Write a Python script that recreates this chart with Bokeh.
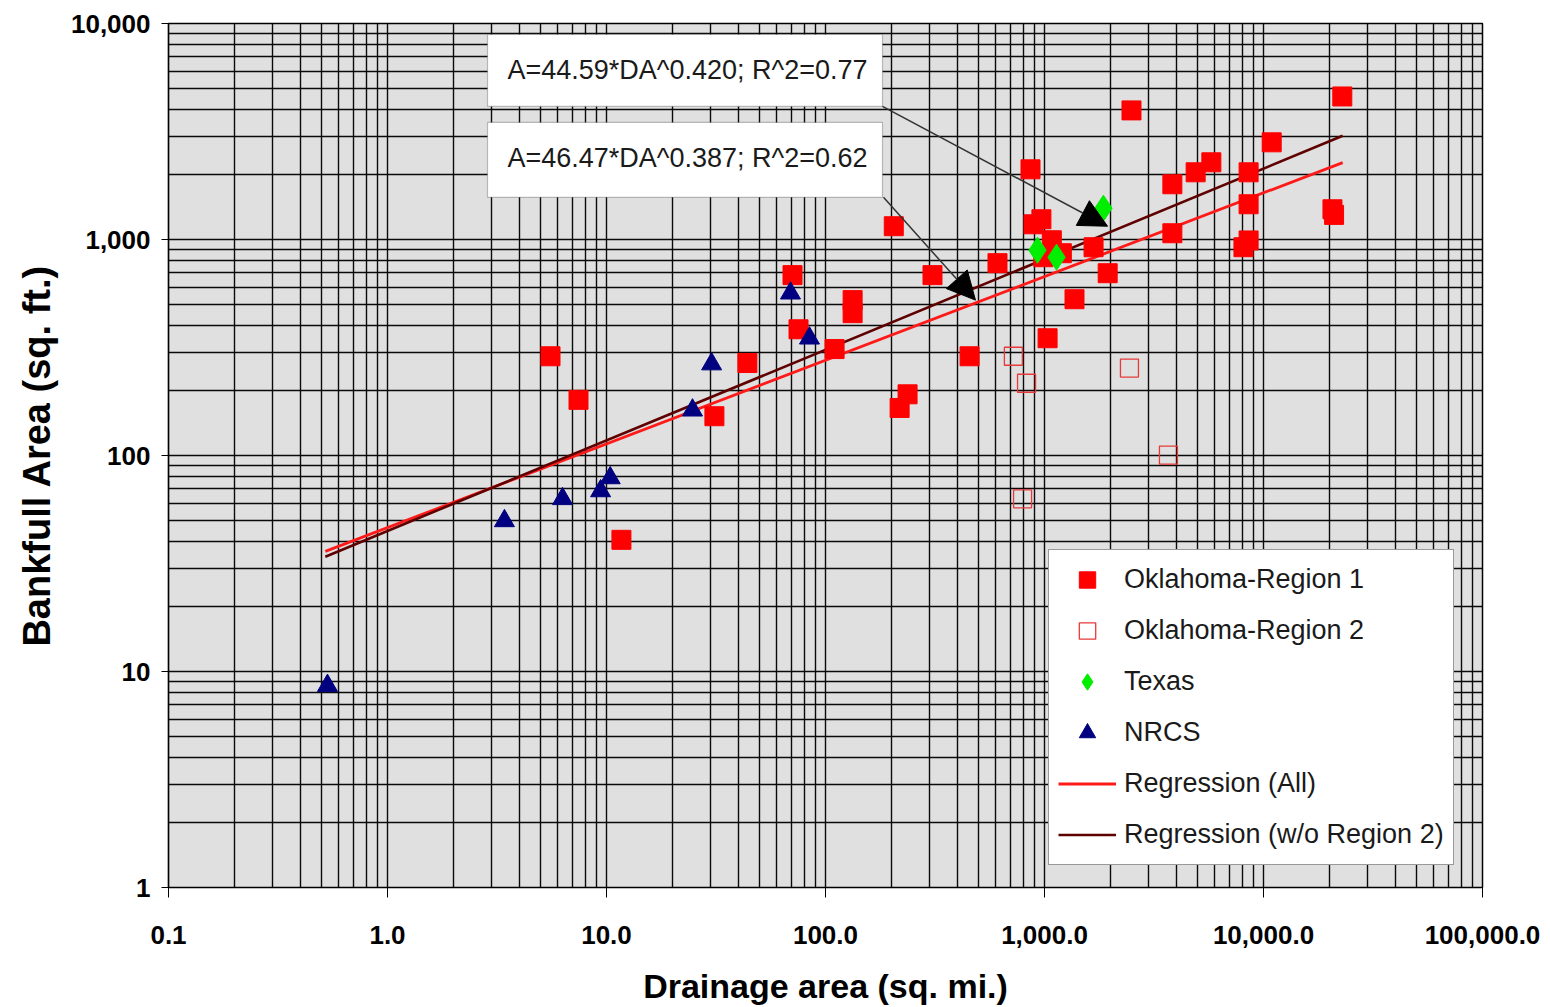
from bokeh.plotting import figure
from bokeh.models import (FixedTicker, CustomJSTickFormatter, Legend, LegendItem,
                          BoxAnnotation, Label, Arrow, NormalHead)
from bokeh.embed import file_html
from bokeh.resources import INLINE

# ---------------- data ----------------
r1_x = [5.55, 7.45, 11.7, 31.1, 44, 70.7, 75.3, 110, 133, 133, 205, 218, 237, 308, 455,
        610, 863, 891, 968, 1080, 988, 1200, 1033, 1371, 1675, 1943, 2496, 3836, 3836,
        4900, 5780, 8550, 8550, 8100, 8550, 10900, 20650, 21000, 22900]
r1_y = [288, 181, 40.7, 152, 268, 684, 384, 311, 524, 456, 1152, 166, 192, 684, 288,
        777, 2113, 1176, 1241, 992, 828, 864, 349, 529, 921, 698, 3960, 1802, 1069,
        2047, 2277, 2047, 1456, 921, 990, 2818, 1380, 1300, 4594]

r2_x = [721, 828, 794, 2443, 3681]
r2_y = [288, 216, 63, 254, 100.5]

tx_x = [1858, 929, 1135]
tx_y = [1396, 892, 828]

nrcs_x = [0.532, 3.42, 6.3, 9.4, 10.4, 24.7, 30.2, 69.2, 84.5]
nrcs_y = [8.6, 49.8, 63, 68.5, 78.7, 162, 265, 564, 349]

reg_x = [0.52, 23000]
reg_all_y = [36.0, 2270]
reg_wo2_y = [34.0, 3020]

eq_all = "A=46.47*DA^0.387; R^2=0.62"
eq_wo2 = "A=44.59*DA^0.420; R^2=0.77"
# arrow targets (data coords of arrow tips)
eq_wo2_target = (1941, 1152)
eq_all_target = (484, 524)

x_tick_values = [0.1, 1, 10, 100, 1000, 10000, 100000]
x_tick_labels = ["0.1", "1.0", "10.0", "100.0", "1,000.0", "10,000.0", "100,000.0"]
y_tick_values = [1, 10, 100, 1000, 10000]
y_tick_labels = ["1", "10", "100", "1,000", "10,000"]

legend_labels = ["Oklahoma-Region 1", "Oklahoma-Region 2", "Texas", "NRCS",
                 "Regression (All)", "Regression (w/o Region 2)"]

FONT = "Liberation Sans"

# ---------------- figure ----------------
p = figure(width=1550, height=1007, x_axis_type="log", y_axis_type="log",
           x_range=(0.1, 100000), y_range=(1, 10000),
           output_backend="svg", toolbar_location=None,
           min_border_left=168, min_border_right=68, min_border_top=23,
           min_border_bottom=119)

p.background_fill_color = "#E0E0E0"
p.border_fill_color = "white"
p.outline_line_color = "black"
p.outline_line_width = 1.5

def minor_list(lo, hi):
    out = []
    k = lo
    while k < hi:
        for m in range(2, 10):
            out.append(m * 10.0 ** k)
        k += 1
    return out

p.xaxis.ticker = FixedTicker(ticks=x_tick_values, minor_ticks=minor_list(-1, 5))
p.yaxis.ticker = FixedTicker(ticks=y_tick_values, minor_ticks=minor_list(0, 4))

fmt_code = """
for (let i = 0; i < vals.length; i++) {
  if (Math.abs(Math.log10(vals[i]) - Math.log10(tick)) < 1e-6) return labels[i];
}
return '';
"""
p.xaxis.formatter = CustomJSTickFormatter(args=dict(vals=x_tick_values, labels=x_tick_labels), code=fmt_code)
p.yaxis.formatter = CustomJSTickFormatter(args=dict(vals=y_tick_values, labels=y_tick_labels), code=fmt_code)

for ax in (p.xaxis, p.yaxis):
    ax.axis_line_color = "black"
    ax.axis_line_width = 1.2
    ax.major_tick_line_color = "black"
    ax.major_tick_in = 0
    ax.minor_tick_in = 0
    ax.minor_tick_out = 0
    ax.major_label_text_font = FONT
    ax.major_label_text_font_style = "bold"
    ax.major_label_text_font_size = "26px"
    ax.major_label_text_color = "black"
    ax.axis_label_text_font = FONT
    ax.axis_label_text_font_style = "bold"
    ax.axis_label_text_color = "black"

p.xaxis.major_tick_out = 10
p.yaxis.major_tick_out = 7
p.xaxis.major_label_standoff = 28
p.yaxis.major_label_standoff = 11

p.xaxis.axis_label = "Drainage area (sq. mi.)"
p.xaxis.axis_label_text_font_size = "34px"
p.xaxis.axis_label_standoff = 20
p.yaxis.axis_label = "Bankfull Area (sq. ft.)"
p.yaxis.axis_label_text_font_size = "38px"
p.yaxis.axis_label_standoff = 10

for g in (p.xgrid, p.ygrid):
    g.grid_line_color = "#0a0a0a"
    g.grid_line_width = 1.4
    g.minor_grid_line_color = "#0a0a0a"
    g.minor_grid_line_width = 1.4

# ---------------- glyphs ----------------
l_all = p.line(reg_x, reg_all_y, line_color="#FF1A1A", line_width=2.8)
l_wo2 = p.line(reg_x, reg_wo2_y, line_color="#5E0000", line_width=2.6)

s_r1 = p.scatter(r1_x, r1_y, marker="square", size=19, fill_color="#FF0000", line_color="#FF0000")
s_r2 = p.scatter(r2_x, r2_y, marker="square", size=18, fill_color=None, line_color="#E83a3a", line_width=1.3)
s_tx = p.scatter(tx_x, tx_y, marker="diamond", size=26, fill_color="#00EE00", line_color="#00EE00")
s_nr = p.scatter(nrcs_x, nrcs_y, marker="triangle", size=20, fill_color="#000080", line_color="#000080")

# ---------------- callouts ----------------
box_style = dict(fill_color="white", fill_alpha=1.0, line_color="#333333", line_width=1.2, level="overlay")
p.add_layout(BoxAnnotation(left=2.862, right=182.1, top=8896, bottom=4132, **box_style))
p.add_layout(BoxAnnotation(left=2.862, right=182.1, top=3485, bottom=1568, **box_style))

lab_style = dict(text_font=FONT, text_font_size="27px", text_color="#1a1a1a",
                 text_baseline="middle", text_align="left", level="overlay")
p.add_layout(Label(x=3.53, y=6063, text=eq_wo2, **lab_style))
p.add_layout(Label(x=3.53, y=2376, text=eq_all, **lab_style))

p.add_layout(Arrow(x_start=182.1, y_start=4132, x_end=eq_wo2_target[0], y_end=eq_wo2_target[1],
                   line_color="#333333", line_width=1.5, level="overlay",
                   end=NormalHead(size=28, fill_color="black", line_color="black")))
p.add_layout(Arrow(x_start=184, y_start=1568, x_end=eq_all_target[0], y_end=eq_all_target[1],
                   line_color="#333333", line_width=1.5, level="overlay",
                   end=NormalHead(size=28, fill_color="black", line_color="black")))

# ---------------- legend ----------------
legend = Legend(items=[
    LegendItem(label=legend_labels[0], renderers=[s_r1]),
    LegendItem(label=legend_labels[1], renderers=[s_r2]),
    LegendItem(label=legend_labels[2], renderers=[s_tx]),
    LegendItem(label=legend_labels[3], renderers=[s_nr]),
    LegendItem(label=legend_labels[4], renderers=[l_all]),
    LegendItem(label=legend_labels[5], renderers=[l_wo2]),
], location=(880, 22))
legend.label_text_font = FONT
legend.label_text_font_size = "27px"
legend.label_text_color = "#1a1a1a"
legend.glyph_width = 58
legend.glyph_height = 41
legend.label_height = 41
legend.label_standoff = 8
legend.spacing = 10
legend.padding = 9
legend.margin = 0
legend.border_line_color = "#333333"
legend.border_line_width = 1.5
legend.background_fill_color = "white"
legend.background_fill_alpha = 1.0
p.add_layout(legend)

open("out.html", "w").write(file_html(p, INLINE))
